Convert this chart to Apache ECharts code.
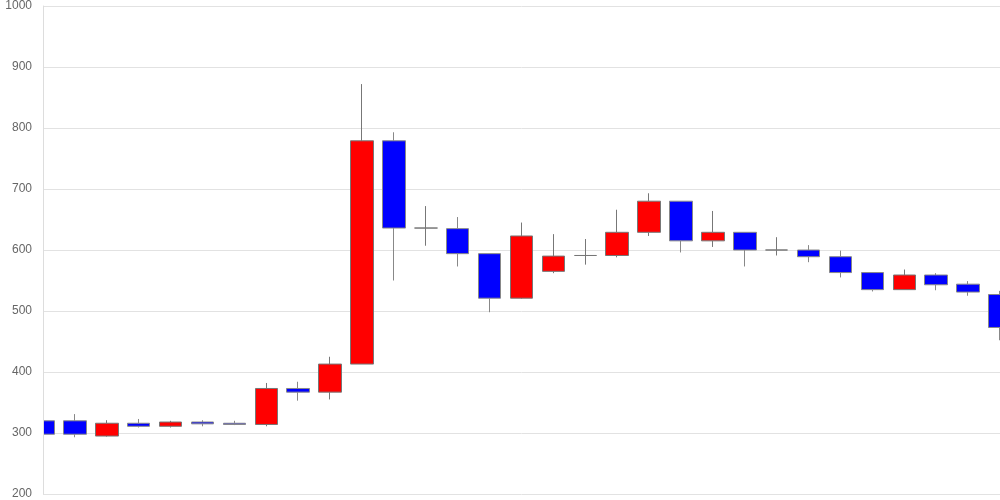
<!DOCTYPE html>
<html>
<head>
<meta charset="utf-8">
<script src="https://cdn.jsdelivr.net/npm/echarts@6/dist/echarts.min.js"></script>
<style>
    html, body { margin: 0; padding: 0; background: #fff; }
    #chart { width: 1000px; height: 500px; }
</style>
</head>
<body>
<div id="chart"></div>
<script>
    // one label per candle (x axis labels are hidden in the picture)
    const days = ['1', '2', '3', '4', '5', '6', '7', '8', '9', '10',
        '11', '12', '13', '14', '15', '16', '17', '18', '19', '20',
        '21', '22', '23', '24', '25', '26', '27', '28', '29', '30', '31'];
    const openValues  = [320, 320, 295, 316, 311, 318, 316, 314, 373, 367, 413, 779, 636, 635, 594, 521, 565, 591, 591, 629, 680, 615, 629, 600, 600, 589, 563, 535, 559, 544, 527];
    const closeValues = [298, 298, 316, 311, 318, 315, 314, 373, 367, 413, 779, 636, 636, 594, 521, 623, 590, 591, 629, 680, 615, 629, 600, 600, 589, 563, 535, 559, 543, 531, 473];
    const lowValues   = [298, 293, 294, 309, 309, 311, 313, 311, 353, 355, 413, 550, 607, 573, 498, 520, 562, 576, 588, 623, 596, 605, 573, 591, 580, 555, 532, 535, 534, 525, 452];
    const highValues  = [335, 331, 321, 323, 320, 321, 320, 382, 384, 425, 872, 793, 672, 654, 594, 645, 626, 618, 666, 693, 680, 664, 629, 621, 608, 599, 563, 568, 562, 549, 533];
    const yTicks = { min: 200, max: 1000, step: 100 };

    let candles = [];
    for (let i = 0; i < days.length; i++) {
        candles.push([openValues[i], closeValues[i], lowValues[i], highValues[i]]);
    }

    let myChart = echarts.init(document.getElementById('chart'));
    let option = {
        animation: false,
        grid: {
            left: 43,
            right: 0,
            top: 6,
            bottom: 6
        },
        // white mask left of the plot so the first candle looks cut by the axis
        graphic: [
            {
                type: 'rect',
                z: 5,
                shape: { x: 0, y: 0, width: 43, height: 500 },
                style: { fill: '#ffffff' },
                silent: true
            }
        ],
        xAxis: {
            type: 'category',
            data: days,
            boundaryGap: false,
            axisLine: { show: false },
            axisTick: { show: false },
            axisLabel: { show: false },
            splitLine: { show: false }
        },
        yAxis: [
            {
                // grid lines, under the candles
                type: 'value',
                min: yTicks.min,
                max: yTicks.max,
                interval: yTicks.step,
                axisLine: { show: false },
                axisTick: { show: false },
                axisLabel: { show: false },
                splitLine: { lineStyle: { color: '#e2e2e2' } }
            },
            {
                // labels and axis line, above the mask
                type: 'value',
                position: 'left',
                z: 10,
                min: yTicks.min,
                max: yTicks.max,
                interval: yTicks.step,
                axisLine: { show: true, lineStyle: { color: '#dddddd' } },
                axisTick: { show: false },
                axisLabel: {
                    color: '#666666',
                    fontSize: 12,
                    fontFamily: 'Liberation Sans, Arial, sans-serif',
                    margin: 11,
                    formatter: function (v) { return String(v); }
                },
                splitLine: { show: false }
            }
        ],
        series: [
            {
                type: 'candlestick',
                yAxisIndex: 0,
                data: candles,
                barWidth: 23,
                itemStyle: {
                    color: '#ff0000',
                    color0: '#0000ff',
                    borderColor: '#777777',
                    borderColor0: '#888888',
                    borderWidth: 1
                }
            }
        ]
    };
    myChart.setOption(option);
</script>
</body>
</html>
